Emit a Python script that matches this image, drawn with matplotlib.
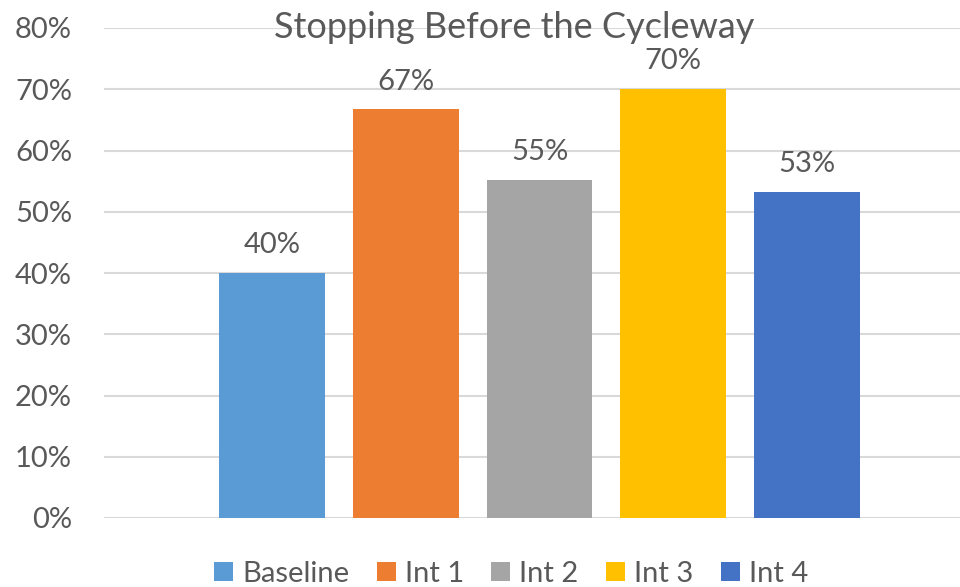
import numpy as np
import matplotlib.pyplot as plt
from matplotlib.ticker import PercentFormatter

# data
series = ['Baseline', 'Int 1', 'Int 2', 'Int 3', 'Int 4']
values = [0.40, 0.667, 0.552, 0.70, 0.533]
colors = ['#5B9BD5', '#ED7D31', '#A5A5A5', '#FFC000', '#4472C4']
yticks = [0, 0.1, 0.2, 0.3, 0.4, 0.5, 0.6, 0.7, 0.8]

txt = '#595959'
plt.rcParams['font.family'] = ['Lato', 'DejaVu Sans']

fig = plt.figure(figsize=(9.6, 5.87), dpi=100)
W, H = 960, 587
# axes box in pixel terms: left 104, right 960, bottom 518, top 28
ax = fig.add_axes([104 / W, 1 - 518 / H, (960 - 104) / W, (518 - 28) / H])

x = np.arange(len(series))
bars = ax.bar(x, values, width=0.79, color=colors, label=series, zorder=3)

for xi, v in zip(x, values):
    ax.annotate(f'{v:.0%}', (xi, v), xytext=(0, 20), textcoords='offset points',
                ha='center', va='center', fontsize=21, color=txt, zorder=4)

ax.set_xlim(-1.254, 5.142)
ax.set_ylim(0, 0.8)
ax.set_yticks(yticks)
ax.yaxis.set_major_formatter(PercentFormatter(1.0, decimals=0))
ax.set_xticks([])
ax.grid(axis='y', color='#D9D9D9', linewidth=1.5, zorder=0)
for s in ax.spines.values():
    s.set_visible(False)
ax.tick_params(axis='y', length=0, pad=23, labelsize=21, labelcolor=txt)

fig.text(514 / W, 1 - 27 / H, 'Stopping Before the Cycleway', ha='center', va='center',
         fontsize=26, color=txt)

fig.legend(handles=bars, labels=series, loc='center', bbox_to_anchor=(511 / W, 1 - 574 / H),
           ncol=5, frameon=False, fontsize=21, labelcolor=txt,
           handlelength=0.65, handleheight=0.65, handletextpad=0.3, columnspacing=0.95)

fig.savefig('out.png', dpi=100)
